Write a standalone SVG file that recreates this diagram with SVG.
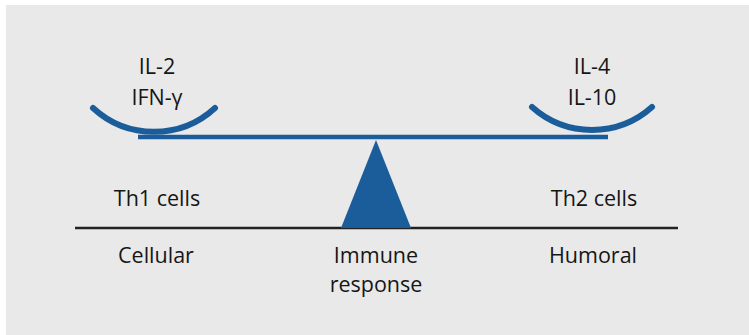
<svg xmlns="http://www.w3.org/2000/svg" width="749" height="335" viewBox="0 0 749 335">
<style>
.t{font-family:"Open Sans","Noto Sans","Liberation Sans",sans-serif;font-size:21.5px;fill:#161616;text-anchor:middle}
.blue{fill:none;stroke:#1b5c9b;stroke-linecap:round}
</style>
<rect x="6" y="5" width="743" height="330" fill="#e9e9e9"/>
<g id="ground"><line x1="75" y1="228" x2="678" y2="228" stroke="#222" stroke-width="2.5"/></g>
<g id="beam"><line x1="138" y1="137" x2="608" y2="137" stroke="#1b5c9b" stroke-width="4.5"/></g>
<g id="left-pan"><path class="blue" stroke-width="6" d="M93,108 A90,90 0 0 0 215,108"/></g>
<g id="right-pan"><path class="blue" stroke-width="6" d="M532,107 A90,90 0 0 0 652,107"/></g>
<g id="fulcrum"><polygon points="376,140 341,228 411,228" fill="#1b5c9b"/></g>
<g id="th1">
<text class="t" x="157" y="74">IL-2</text>
<text class="t" x="157" y="105">IFN-γ</text>
<text class="t" x="157" y="206">Th1 cells</text>
<text class="t" x="156" y="263">Cellular</text>
</g>
<g id="th2">
<text class="t" x="592" y="74">IL-4</text>
<text class="t" x="592" y="105">IL-10</text>
<text class="t" x="594" y="206">Th2 cells</text>
<text class="t" x="593" y="263">Humoral</text>
</g>
<g id="immune">
<text class="t" x="376" y="263">Immune</text>
<text class="t" x="376" y="292">response</text>
</g>
</svg>
